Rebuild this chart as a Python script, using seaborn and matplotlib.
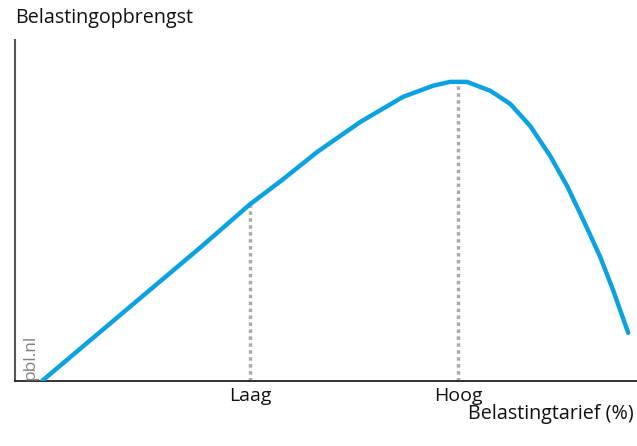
import matplotlib
matplotlib.use("Agg")
import matplotlib.pyplot as plt
import seaborn as sns
import pandas as pd

# Data (tax rate in %, revenue as index, peak = 100)
tarief = [0, 15.0, 27.0, 35.5, 41.1, 46.9, 54.3, 61.6, 66.7, 69.6, 72.5, 76.5, 79.9, 83.3, 86.7, 89.6, 92.3, 95.2, 97.4, 100]
opbrengst = [0, 24.8, 44.6, 59.1, 67.4, 76.5, 86.6, 95.0, 98.7, 100, 100, 97.0, 92.6, 85.2, 75.2, 65.1, 54.0, 41.6, 30.5, 16.1]

tick_labels = ["Laag", "Hoog"]
tick_pos = [35.5, 71.0]
tick_heights = [59.1, 100]

df = pd.DataFrame({"tarief": tarief, "opbrengst": opbrengst})

sns.set_theme(style="white")
plt.rcParams["font.family"] = ["Open Sans", "DejaVu Sans"]

fig = plt.figure(figsize=(6.37, 4.46), dpi=100)
ax = fig.add_axes([15 / 637, 1 - 381 / 446, 1 - 15 / 637, (381 - 40) / 446])

ax.vlines(tick_pos, 0, tick_heights, colors="#aaaaaa", linestyles=(0, (1, 1)), linewidth=2.5, zorder=1)
sns.lineplot(data=df, x="tarief", y="opbrengst", ax=ax, color="#0ba2e2", linewidth=3.2, zorder=3)
ax.lines[-1].set_solid_joinstyle("round")

ax.set_xlim(-4.6, 101.5)
ax.set_ylim(0, 114)
ax.set_xticks(tick_pos)
ax.set_xticklabels(tick_labels, fontsize=14, color="#111111")
ax.set_yticks([])
ax.tick_params(axis="x", length=0, pad=4)
ax.set_xlabel("")
ax.set_ylabel("")

for s in ["top", "right"]:
    ax.spines[s].set_visible(False)
ax.spines["left"].set_color("#555555")
ax.spines["left"].set_linewidth(1.5)
ax.spines["bottom"].set_color("#222222")
ax.spines["bottom"].set_linewidth(1.3)

fig.text(15 / 637, 1 - 18 / 446, "Belastingopbrengst", fontsize=14.2, color="#111111", ha="left", va="center")
fig.text(634 / 637, 1 - 414 / 446, "Belastingtarief (%)", fontsize=14.2, color="#111111", ha="right", va="center")
fig.text(30 / 637, 1 - 380 / 446, "pbl.nl", fontsize=12.5, color="#808080", rotation=90, ha="center", va="bottom")

fig.savefig("out.png", dpi=100)
